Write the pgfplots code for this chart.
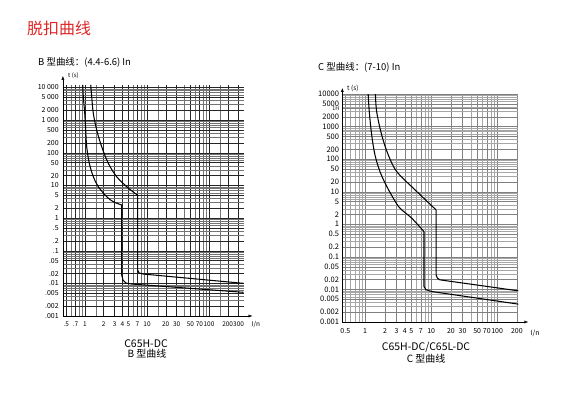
\documentclass[border=0pt]{standalone}
\usepackage{fontspec}
\setmainfont{Noto Sans CJK SC}
\usepackage{pgfplots}
\pgfplotsset{compat=1.18}
\usetikzlibrary{arrows.meta}
\definecolor{titlered}{RGB}{222,38,38}

\begin{document}
\begin{tikzpicture}[x=1bp,y=1bp]
\useasboundingbox (0,0) rectangle (582,397);

\node[anchor=base west, text=titlered, font=\fontsize{16}{16}\selectfont, inner sep=0pt] at (27,363) {脱扣曲线};
\node[anchor=base west, font=\fontsize{9.5}{10}\selectfont, inner sep=0pt] at (38,332) {B 型曲线：(4.4-6.6) In};
\node[anchor=base west, font=\fontsize{9.5}{10}\selectfont, inner sep=0pt] at (318,327) {C 型曲线：(7-10) In};

% ---------------- Left: B curve ----------------
\begin{axis}[
  scale only axis, xmode=log, ymode=log, axis lines=left, anchor=south west,
  grid=both, major tick length=0pt, minor tick length=0pt,
  at={(62.9bp,81bp)}, width=180.6bp, height=231.1bp,
  xmin=0.44, xmax=360, ymin=0.001, ymax=12000,
  x axis line style={-{Latex[length=4pt,width=3pt]}, shorten >=-9bp},
  y axis line style={-{Latex[length=4pt,width=3pt]}, shorten >=-9bp},
  major grid style={black!85, line width=0.35pt},
  minor grid style={black!55, line width=0.3pt},
  xticklabel style={font=\fontsize{6.5}{6.5}\selectfont, inner sep=1pt},
  yticklabel style={font=\fontsize{7}{7}\selectfont, inner sep=1pt},
  xticklabel shift=4.5pt, yticklabel shift=3pt,
  xtick={0.5,0.7,1,2,3,4,5,7,10,20,30,50,70,100,200,300},
  xticklabels={.5,.7,1,2,3,4,5,7,10,20,30,50,70,100,200,300},
  minor xtick={0.6,0.8,0.9,1.5,6,8,9,15,40,60,80,90,150},
  ytick={0.001,0.002,0.005,0.01,0.02,0.05,0.1,0.2,0.5,1,2,5,10,20,50,100,200,500,1000,2000,5000,10000},
  yticklabels={.001,.002,.005,.01,.02,.05,.1,.2,.5,1,2,5,10,20,50,100,200,500,{1 000},{2 000},{5 000},{10 000}},
  minor ytick={0.003,0.004,0.006,0.007,0.008,0.009,0.03,0.04,0.06,0.07,0.08,0.09,0.3,0.4,0.6,0.7,0.8,0.9,3,4,6,7,8,9,30,40,60,70,80,90,300,400,600,700,800,900,3000,4000,6000,7000,8000,9000},
]
\addplot[black, line width=1.05pt, no marks, smooth, tension=0.55] coordinates {(0.918,12000) (0.939,5230) (0.989,1620) (1.026,499) (1.065,153) (1.173,47.6) (1.361,18.5) (1.639,9.14) (2.239,4.51) (2.86,3.17) (3.91,2.51)};
\addplot[black, line width=1.05pt, no marks, sharp plot] coordinates {(3.91,2.51) (3.91,0.018) (4.10,0.01265) (4.58,0.01023) (5.66,0.00955) (360,0.00532)};
\addplot[black, line width=1.05pt, no marks, smooth, tension=0.55] coordinates {(1.236,12000) (1.282,5230) (1.361,1620) (1.544,499) (1.859,153) (2.376,47.6) (3.24,18.5) (4.71,9.14) (6.40,5.74) (7.07,5.1)};
\addplot[black, line width=1.05pt, no marks, sharp plot] coordinates {(7.07,5.1) (7.07,0.0256) (7.43,0.0208) (8.71,0.0193) (360,0.01)};
\end{axis}

% ---------------- Right: C curve ----------------
\begin{axis}[
  scale only axis, xmode=log, ymode=log, axis lines=left, anchor=south west,
  grid=both, major tick length=0pt, minor tick length=0pt,
  at={(342.3bp,75bp)}, width=176bp, height=228bp,
  xmin=0.45, xmax=210, ymin=0.001, ymax=10000,
  x axis line style={-{Latex[length=4pt,width=3pt]}, shorten >=-10bp},
  y axis line style={-{Latex[length=4pt,width=3pt]}, shorten >=-6bp},
  major grid style={black!50, line width=0.3pt},
  minor grid style={black!35, line width=0.3pt},
  xticklabel style={font=\fontsize{7}{7}\selectfont, inner sep=1pt},
  yticklabel style={font=\fontsize{7.6}{7.6}\selectfont, inner sep=1pt},
  xticklabel shift=5pt, yticklabel shift=2pt,
  xtick={0.5,1,2,3,4,5,7,10,20,30,50,70,100,200},
  xticklabels={0.5,1,2,3,4,5,7,10,20,30,50,70,100,200},
  minor xtick={0.6,0.7,0.8,0.9,6,8,9,40,60,80,90},
  ytick={0.001,0.002,0.005,0.01,0.02,0.05,0.1,0.2,0.5,1,2,5,10,20,50,100,200,500,1000,2000,3600,5000,10000},
  yticklabels={0.001,0.002,0.005,0.01,0.02,0.05,0.1,0.2,0.5,1,2,5,10,20,50,100,200,500,1000,2000,{\fontsize{5.3}{5.3}\selectfont 1H},{\raisebox{1pt}{5000}},10000},
  minor ytick={0.003,0.004,0.006,0.007,0.008,0.009,0.03,0.04,0.06,0.07,0.08,0.09,0.3,0.4,0.6,0.7,0.8,0.9,3,4,6,7,8,9,30,40,60,70,80,90,300,400,600,700,800,900,3000,4000,6000,7000,8000,9000},
]
\addplot[black, line width=1.05pt, no marks, smooth, tension=0.55] coordinates {(1.11,10000) (1.154,2860) (1.255,552) (1.408,134.6) (1.677,41.4) (2.068,16.2) (2.67,6.32) (3.37,3.12) (5.08,1.54) (7.80,0.597)};
\addplot[black, line width=1.05pt, no marks, sharp plot] coordinates {(7.80,0.597) (7.80,0.01227) (8.37,0.0098) (10.2,0.00863) (210,0.00354)};
\addplot[black, line width=1.05pt, no marks, smooth, tension=0.55] coordinates {(1.43,10000) (1.494,2860) (1.78,552) (2.24,134.6) (3.01,41.4) (5.37,12.8) (11.87,2.77)};
\addplot[black, line width=1.05pt, no marks, sharp plot] coordinates {(11.87,2.77) (11.87,0.0281) (12.5,0.0219) (13.6,0.0197) (210,0.00906)};
\end{axis}

\node[anchor=west, font=\fontsize{6}{6}\selectfont, inner sep=0pt] at (68,321) {t (s)};
\node[anchor=west, font=\fontsize{6.5}{6.5}\selectfont, inner sep=0pt] at (347,309) {t (s)};
\node[font=\fontsize{6.5}{6.5}\selectfont, inner sep=0pt] at (256,72) {I/n};
\node[font=\fontsize{7}{7}\selectfont, inner sep=0pt] at (535,64) {I/n};

\node[font=\fontsize{10.5}{10.5}\selectfont, inner sep=0pt] at (146,53.5) {C65H-DC};
\node[font=\fontsize{10}{10}\selectfont, inner sep=0pt] at (147,43) {B 型曲线};
\node[font=\fontsize{10.5}{10.5}\selectfont, inner sep=0pt] at (426,49.8) {C65H-DC/C65L-DC};
\node[font=\fontsize{10}{10}\selectfont, inner sep=0pt] at (426,38.2) {C 型曲线};
\end{tikzpicture}
\end{document}
